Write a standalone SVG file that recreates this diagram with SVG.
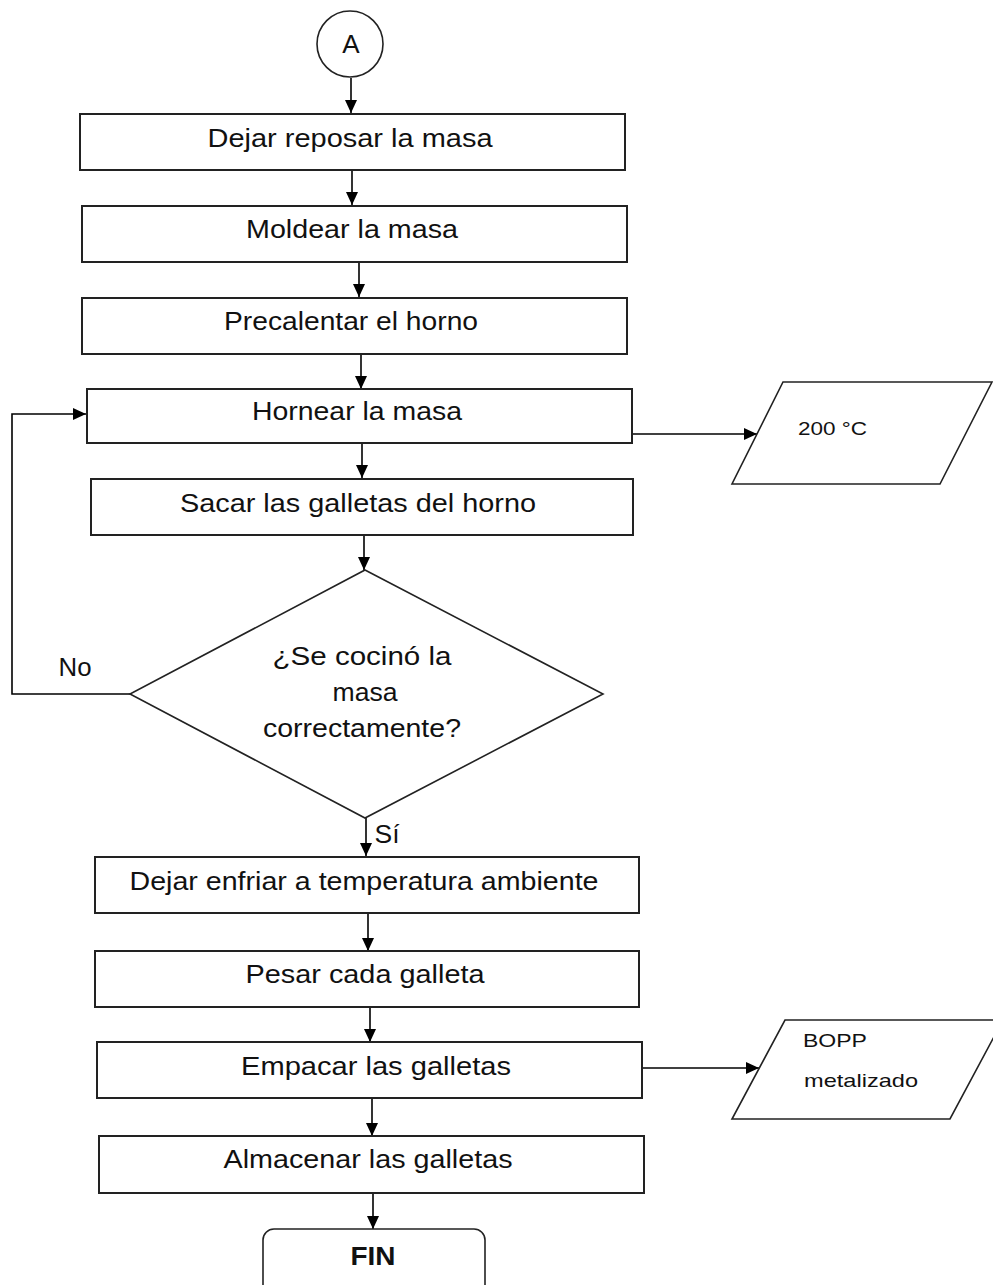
<svg xmlns="http://www.w3.org/2000/svg" width="993" height="1285" viewBox="0 0 993 1285">
<defs>
<marker id="ah" markerUnits="userSpaceOnUse" markerWidth="13" markerHeight="12" refX="13" refY="6" orient="auto">
<path d="M0,0 L13,6 L0,12 z" fill="#000"/>
</marker>
<style>
.box{fill:#fff;stroke:#222;stroke-width:2}
.t{font-family:"Liberation Sans",Arial,sans-serif;font-size:26px;fill:#111;text-anchor:middle}
.s{font-family:"Liberation Sans",Arial,sans-serif;font-size:19px;fill:#111}
.c{fill:none;stroke:#000;stroke-width:1.6}
.a{marker-end:url(#ah)}
</style>
</defs>
<rect width="993" height="1285" fill="#fff"/>
<g id="connectors">
<line class="c a" x1="351" y1="78" x2="351" y2="113"/>
<line class="c a" x1="352" y1="170" x2="352" y2="205"/>
<line class="c a" x1="359" y1="262" x2="359" y2="297"/>
<line class="c a" x1="361" y1="354" x2="361" y2="389"/>
<line class="c a" x1="362" y1="443" x2="362" y2="478"/>
<line class="c a" x1="364" y1="535" x2="364" y2="570"/>
<polyline class="c a" points="130,694 12,694 12,414 86,414"/>
<line class="c a" x1="366" y1="818" x2="366" y2="856"/>
<line class="c a" x1="368" y1="913" x2="368" y2="951"/>
<line class="c a" x1="370" y1="1007" x2="370" y2="1042"/>
<line class="c a" x1="372" y1="1098" x2="372" y2="1136"/>
<line class="c a" x1="373" y1="1193" x2="373" y2="1229"/>
<line class="c a" x1="632" y1="434" x2="757" y2="434"/>
<line class="c a" x1="642" y1="1068" x2="759" y2="1068"/>
<text class="t" x="75" y="676" text-anchor="middle" textLength="33" lengthAdjust="spacingAndGlyphs">No</text>
<text class="t" x="387" y="843" text-anchor="start" textLength="25" lengthAdjust="spacingAndGlyphs">Sí</text>
</g>
<g id="nodeA">
<circle cx="350" cy="44" r="33" fill="#fff" stroke="#222" stroke-width="1.6"/>
<text class="t" x="351" y="53">A</text>
</g>
<g id="n1">
<rect class="box" x="80" y="114" width="545" height="56"/>
<text class="t" x="350" y="147" textLength="285" lengthAdjust="spacingAndGlyphs">Dejar reposar la masa</text>
</g>
<g id="n2">
<rect class="box" x="82" y="206" width="545" height="56"/>
<text class="t" x="352" y="238" textLength="212" lengthAdjust="spacingAndGlyphs">Moldear la masa</text>
</g>
<g id="n3">
<rect class="box" x="82" y="298" width="545" height="56"/>
<text class="t" x="351" y="330" textLength="254" lengthAdjust="spacingAndGlyphs">Precalentar el horno</text>
</g>
<g id="n4">
<rect class="box" x="87" y="389" width="545" height="54"/>
<text class="t" x="357" y="420" textLength="210" lengthAdjust="spacingAndGlyphs">Hornear la masa</text>
</g>
<g id="n5">
<rect class="box" x="91" y="479" width="542" height="56"/>
<text class="t" x="358" y="512" textLength="356" lengthAdjust="spacingAndGlyphs">Sacar las galletas del horno</text>
</g>
<g id="decision">
<polygon points="365,570 603,694 365,818 130,694" fill="#fff" stroke="#222" stroke-width="1.6"/>
<text class="t" x="362" y="665" textLength="179" lengthAdjust="spacingAndGlyphs">¿Se cocinó la</text>
<text class="t" x="365" y="701" textLength="65" lengthAdjust="spacingAndGlyphs">masa</text>
<text class="t" x="362" y="737" textLength="198" lengthAdjust="spacingAndGlyphs">correctamente?</text>
</g>
<g id="n6">
<rect class="box" x="95" y="857" width="544" height="56"/>
<text class="t" x="364" y="890" textLength="469" lengthAdjust="spacingAndGlyphs">Dejar enfriar a temperatura ambiente</text>
</g>
<g id="n7">
<rect class="box" x="95" y="951" width="544" height="56"/>
<text class="t" x="365" y="983" textLength="239" lengthAdjust="spacingAndGlyphs">Pesar cada galleta</text>
</g>
<g id="n8">
<rect class="box" x="97" y="1042" width="545" height="56"/>
<text class="t" x="376" y="1075" textLength="270" lengthAdjust="spacingAndGlyphs">Empacar las galletas</text>
</g>
<g id="n9">
<rect class="box" x="99" y="1136" width="545" height="57"/>
<text class="t" x="368" y="1168" textLength="289" lengthAdjust="spacingAndGlyphs">Almacenar las galletas</text>
</g>
<g id="fin">
<rect x="263" y="1229" width="222" height="80" rx="11" ry="11" fill="#fff" stroke="#222" stroke-width="1.6"/>
<text class="t" x="373" y="1265" font-weight="bold" font-size="27" textLength="45" lengthAdjust="spacingAndGlyphs">FIN</text>
</g>
<g id="temp">
<polygon points="783,382 992,382 940,484 732,484" fill="#fff" stroke="#222" stroke-width="1.6"/>
<text class="s" x="798" y="435" textLength="69" lengthAdjust="spacingAndGlyphs">200 °C</text>
</g>
<g id="bopp">
<polygon points="785,1020 1003,1020 950,1119 732,1119" fill="#fff" stroke="#222" stroke-width="1.6"/>
<text class="s" x="803" y="1047" textLength="64" lengthAdjust="spacingAndGlyphs">BOPP</text>
<text class="s" x="804" y="1087" textLength="114" lengthAdjust="spacingAndGlyphs">metalizado</text>
</g>
</svg>
